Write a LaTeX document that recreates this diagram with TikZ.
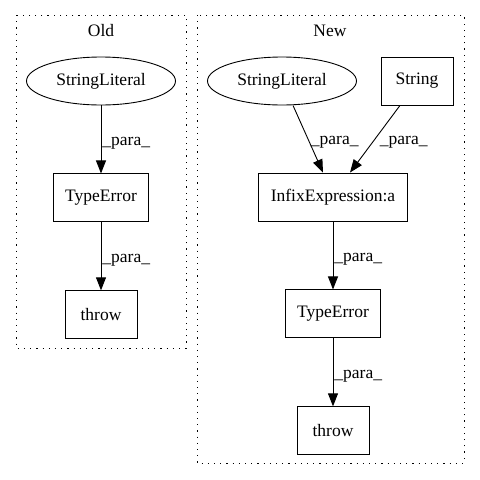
\documentclass[tikz,border=0pt]{standalone}
\usepackage{fontspec}
\setmainfont{Liberation Serif}
\usetikzlibrary{arrows.meta,shapes,positioning}

\begin{document}
\begin{tikzpicture}[x=1pt, y=-1pt, node distance=68pt, auto,
  box/.style={rectangle, draw, line width=0.9pt, minimum height=48pt, minimum width=72pt, inner xsep=12pt, font=\fontsize{17.5}{21}\selectfont},
  oval/.style={ellipse, draw, line width=0.9pt, minimum height=48pt, minimum width=149pt, inner sep=0pt, font=\fontsize{17.5}{21}\selectfont},
  lbl/.style={inner sep=1pt, font=\fontsize{17.5}{21}\selectfont},
  para/.style={-{Triangle[length=13pt,width=10pt]}, line width=0.9pt},
  cluster/.style={draw, line width=0.9pt, dash pattern=on 1.2pt off 5pt}]
\useasboundingbox (0,0) rectangle (480,480);
% clusters
\draw[cluster] (16,15) rectangle (186,348);
\draw[cluster] (197,15) rectangle (464,463);
\node[lbl] (oldtitle) at (101,31) {Old};
\node[lbl] (newtitle) at (330,31) {New};
% old
\node[oval] (ostrlit) at (101,81) {StringLiteral};
\node[box, below=of ostrlit] (otype) {TypeError};
\node[box, below=of otype] (othrow) {throw};
\draw[para] (ostrlit) -- node[lbl, right, pos=0.55] {\_para\_} (otype);
\draw[para] (otype) -- node[lbl, right, pos=0.55] {\_para\_} (othrow);
% new
\node[oval] (nstrlit) at (282,81) {StringLiteral};
\node[box] (nstring) at (417,81) {String};
\node[box] (infix) at (333,197) {InfixExpression:a};
\node[box, below=of infix] (ntype) {TypeError};
\node[box, below=of ntype] (nthrow) {throw};
\draw[para] ([xshift=11pt]nstrlit.south) -- node[lbl, right, pos=0.55] {\_para\_} ([xshift=-10pt]infix.north);
\draw[para] ([xshift=-17pt]nstring.south) -- node[lbl, right, pos=0.55, xshift=6pt] {\_para\_} ([xshift=17pt]infix.north);
\draw[para] (infix) -- node[lbl, right, pos=0.55] {\_para\_} (ntype);
\draw[para] (ntype) -- node[lbl, right, pos=0.55] {\_para\_} (nthrow);
\end{tikzpicture}
\end{document}
